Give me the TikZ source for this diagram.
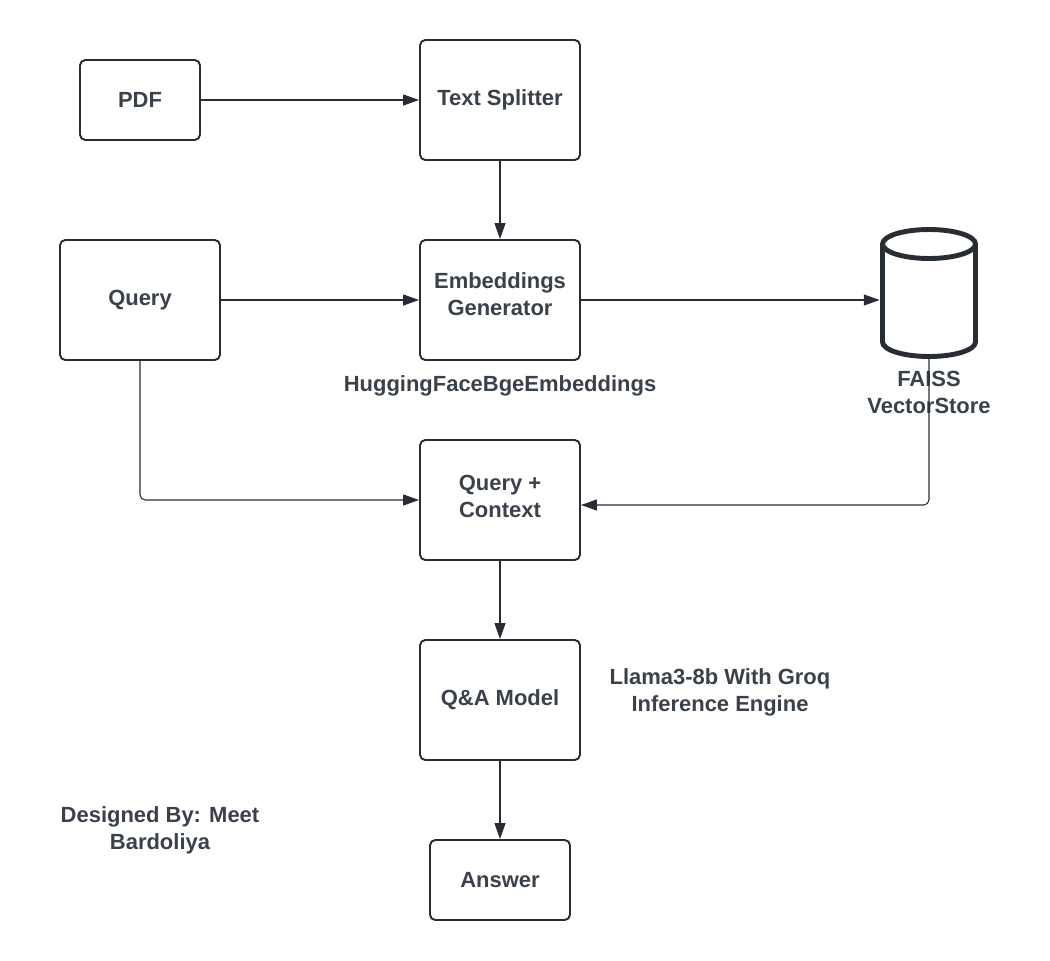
\documentclass[tikz,border=0pt]{standalone}
\usepackage{fontspec}
\setmainfont{Liberation Sans}
\usepackage{tikz}
\usetikzlibrary{arrows.meta}
\usepackage{xcolor}
\definecolor{ink}{HTML}{282C33}
\definecolor{txt}{HTML}{3A414A}

\begin{document}
\begin{tikzpicture}[x=0.02cm, y=-0.02cm, >={Triangle[length=9pt,width=6.2pt]},
    box/.style={draw=ink, line width=1.1pt, rounded corners=3pt, text=txt, font=\bfseries\fontsize{12.5}{15.3}\selectfont, align=center, inner sep=0pt},
    lbl/.style={text=txt, font=\bfseries\fontsize{12.5}{15.3}\selectfont, align=center},
    link/.style={->, draw=ink, line width=0.6pt, rounded corners=3pt}]
    \useasboundingbox (0,0) rectangle (1050,960);
    % boxes
    \node[box, minimum width=2.4cm, minimum height=1.6cm] (pdf) at (140,100) {PDF};
    \node[box, minimum width=3.2cm, minimum height=2.4cm] (split) at (500,100) {Text Splitter};
    \node[box, minimum width=3.2cm, minimum height=2.4cm] (query) at (140,300) {Query};
    \node[box, minimum width=3.2cm, minimum height=2.4cm, text depth=6.6pt] (embed) at (500,300) {Embeddings\\Generator};
    \node[box, minimum width=3.2cm, minimum height=2.4cm, text depth=4pt] (qctx) at (500,500) {Query +\\Context};
    \node[box, minimum width=3.2cm, minimum height=2.4cm] (qa) at (500,700) {Q\&A Model};
    \node[box, minimum width=2.8cm, minimum height=1.6cm] (ans) at (500,880) {Answer};
    % vector store (cylinder)
    \node[minimum width=1.96cm, minimum height=2.56cm, inner sep=0pt] (db) at (929,294) {};
    \draw[ink, line width=2.8pt] (929,244) ellipse [x radius=0.93cm, y radius=0.29cm];
    \draw[ink, line width=2.8pt] (882.5,244) -- (882.5,342)
        arc [start angle=180, end angle=360, x radius=0.93cm, y radius=0.29cm] -- (975.5,244);
    % labels
    \node[lbl] (faiss) at (929,392) {FAISS\\VectorStore};
    \node[lbl] (hf) at (500,386) {HuggingFaceBgeEmbeddings};
    \node[lbl] (llama) at (720,692) {Llama3-8b With Groq\\Inference Engine};
    \node[lbl] (design) at (160,830) {Designed By: Meet\\Bardoliya};
    % links
    \draw[link] (pdf.east) -- (split.west);
    \draw[link] (split.south) -- (embed.north);
    \draw[link] (query.east) -- (embed.west);
    \draw[link] (embed.east) -- (embed.east -| db.west);
    \draw[link] (query.south) |- (qctx.west);
    \draw[link] (db.south) |- ([yshift=-0.1cm]qctx.east);
    \draw[link] (qctx.south) -- (qa.north);
    \draw[link] (qa.south) -- (ans.north);
\end{tikzpicture}
\end{document}
